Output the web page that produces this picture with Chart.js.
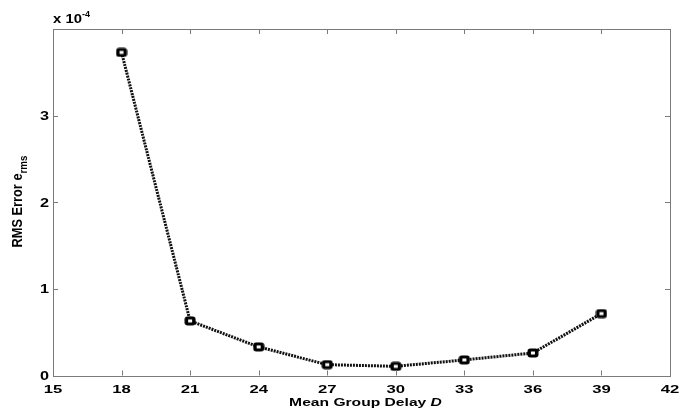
<!DOCTYPE html>
<html><head><meta charset="utf-8">
<script src="https://cdn.jsdelivr.net/npm/chart.js@4.4.1/dist/chart.umd.min.js"></script>
<style>html,body{margin:0;padding:0;background:#fff;}#wrap{width:679px;height:415px;}</style>
</head><body><div id="wrap"><canvas id="c" width="679" height="415"></canvas></div>
<script>
const meanGroupDelay = [18, 21, 24, 27, 30, 33, 36, 39];
const rmsErrorE4 = [3.73, 0.63, 0.33, 0.125, 0.106, 0.18, 0.26, 0.715];
const xTicks = [15, 18, 21, 24, 27, 30, 33, 36, 39, 42];
const yTicks = [0, 1, 2, 3];
const FONT = '"Liberation Sans", Arial, sans-serif';

// marker image: rounded rectangle, black border, tiny white centre
const marker = document.createElement('canvas');
marker.width = 12; marker.height = 10;
(function () {
  const m = marker.getContext('2d');
  m.fillStyle = '#000';
  m.beginPath();
  if (m.roundRect) m.roundRect(0.5, 0.5, 11, 9, 3); else m.rect(0.5, 0.5, 11, 9);
  m.fill();
  m.fillStyle = '#fff';
  m.fillRect(4, 3.5, 4, 3);
})();

function txt(ctx, s, x, y, font, hs, align) {
  ctx.save();
  ctx.font = font;
  const w = ctx.measureText(s).width * hs;
  let sx = x;
  if (align === 'center') sx = x - w / 2;
  else if (align === 'right') sx = x - w;
  ctx.translate(sx, y);
  ctx.scale(hs, 1);
  ctx.textAlign = 'left';
  ctx.textBaseline = 'alphabetic';
  ctx.fillText(s, 0, 0);
  ctx.restore();
  return w;
}
function width(ctx, s, font, hs) { ctx.save(); ctx.font = font; const w = ctx.measureText(s).width * hs; ctx.restore(); return w; }

const framePlugin = {
  id: 'frame',
  afterDraw(chart) {
    const {ctx, chartArea: a, scales: {x, y}} = chart;
    ctx.save();
    ctx.strokeStyle = '#7a7a7a';
    ctx.lineWidth = 1;
    ctx.strokeRect(Math.round(a.left) + 0.5, Math.round(a.top) + 0.5, Math.round(a.right - a.left), Math.round(a.bottom - a.top));
    ctx.beginPath();
    const L = 5;
    xTicks.forEach(v => {
      const px = Math.round(x.getPixelForValue(v)) + 0.5;
      ctx.moveTo(px, a.bottom); ctx.lineTo(px, a.bottom - L);
      ctx.moveTo(px, a.top); ctx.lineTo(px, a.top + L);
    });
    yTicks.forEach(v => {
      const py = Math.round(y.getPixelForValue(v)) + 0.5;
      ctx.moveTo(a.left, py); ctx.lineTo(a.left + L, py);
      ctx.moveTo(a.right, py); ctx.lineTo(a.right - L, py);
    });
    ctx.stroke();
    ctx.fillStyle = '#000';
    // tick labels
    const tf = 'bold 11.5px ' + FONT;
    xTicks.forEach(v => txt(ctx, String(v), x.getPixelForValue(v), 393, tf, 1.45, 'center'));
    const yf = 'bold 12.5px ' + FONT;
    yTicks.forEach(v => txt(ctx, String(v), a.left - 4, y.getPixelForValue(v) + 4.5, yf, 1.3, 'right'));
    // exponent label
    const w10 = txt(ctx, 'x 10', a.left, 23, 'bold 13.5px ' + FONT, 1.1, 'left');
    txt(ctx, '-4', a.left + w10, 17, 'bold 9px ' + FONT, 1.0, 'left');
    // x title
    const f1 = 'bold 11px ' + FONT, f2 = 'italic bold 11px ' + FONT;
    const hsT = 1.42;
    const t1 = 'Mean Group Delay ';
    const w1 = width(ctx, t1, f1, hsT), w2 = width(ctx, 'D', f2, hsT);
    const sx = 365.5 - (w1 + w2) / 2;
    txt(ctx, t1, sx, 406, f1, hsT, 'left');
    txt(ctx, 'D', sx + w1, 406, f2, hsT, 'left');
    // y title (rotated)
    ctx.save();
    ctx.translate(21.5, 201.5);
    ctx.rotate(-Math.PI / 2);
    ctx.scale(1, 1.15);
    const yf1 = 'bold 12.8px ' + FONT, yf2 = 'bold 9.8px ' + FONT;
    const ws1 = width(ctx, 'RMS Error e', yf1, 1), ws2 = width(ctx, 'rms', yf2, 1);
    const st = -(ws1 + ws2) / 2;
    txt(ctx, 'RMS Error e', st, 0, yf1, 1, 'left');
    txt(ctx, 'rms', st + ws1, 5, yf2, 1, 'left');
    ctx.restore();
    ctx.restore();
  }
};

new Chart(document.getElementById('c'), {
  type: 'line',
  data: {
    datasets: [{
      data: meanGroupDelay.map((d, i) => ({x: d, y: rmsErrorE4[i]})),
      borderColor: '#111',
      borderWidth: 3,
      borderDash: [2, 1],
      pointStyle: marker,
      pointRadius: 6,
      tension: 0
    }]
  },
  options: {
    responsive: false,
    animation: false,
    events: [],
    layout: {padding: {top: 29, right: 9, left: 0, bottom: 0}},
    plugins: {legend: {display: false}, tooltip: {enabled: false}},
    scales: {
      x: {
        type: 'linear', min: 15, max: 42,
        afterBuildTicks: s => { s.ticks = xTicks.map(v => ({value: v})); },
        grid: {display: false, drawTicks: false},
        border: {display: false},
        ticks: {display: false},
        afterFit: s => { s.height = 39.5; }
      },
      y: {
        type: 'linear', min: 0, max: 4,
        afterBuildTicks: s => { s.ticks = yTicks.map(v => ({value: v})); },
        grid: {display: false, drawTicks: false},
        border: {display: false},
        ticks: {display: false},
        afterFit: s => { s.width = 53; }
      }
    }
  },
  plugins: [framePlugin]
});
</script>
</body></html>
